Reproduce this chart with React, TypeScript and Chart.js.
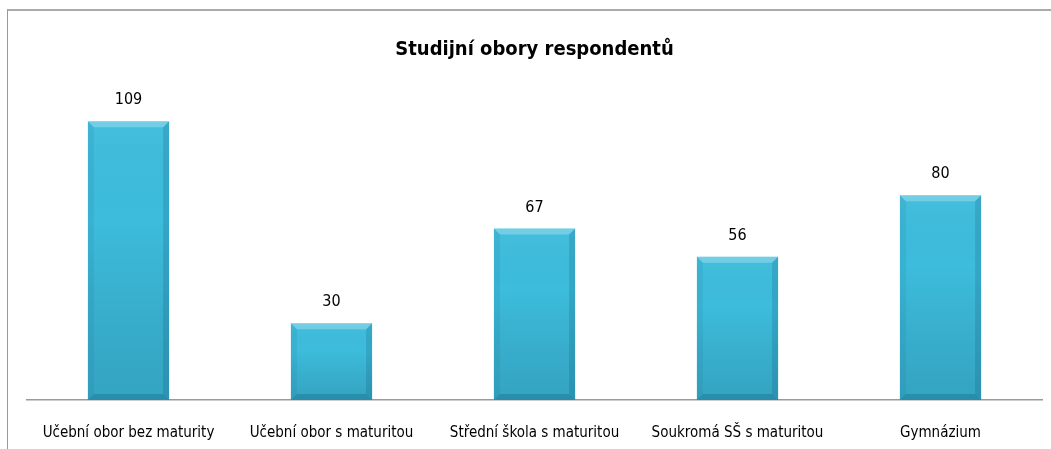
import React, { useEffect, useRef } from "react";
import { Chart, registerables } from "chart.js";

Chart.register(...registerables);

const categories = [
  "Učební obor bez maturity",
  "Učební obor s maturitou",
  "Střední škola s maturitou",
  "Soukromá SŠ s maturitou",
  "Gymnázium",
];
const values = [109, 30, 67, 56, 80];
const chartTitle = "Studijní obory respondentů";

const FONT = "'Liberation Sans Narrow', 'DejaVu Sans Condensed', 'Open Sans', sans-serif";

const bevelPlugin = {
  id: "bevel",
  afterDatasetsDraw(chart: any) {
    const ctx = chart.ctx;
    const meta = chart.getDatasetMeta(0);
    meta.data.forEach((bar: any, i: number) => {
      const w = bar.width;
      const l = bar.x - w / 2;
      const r = bar.x + w / 2;
      const t = bar.y;
      const b = bar.base;
      const bv = 6;
      ctx.save();
      const g = ctx.createLinearGradient(0, t, 0, b);
      g.addColorStop(0, "rgba(255,255,255,0.04)");
      g.addColorStop(0.35, "rgba(0,0,0,0.0)");
      g.addColorStop(1, "rgba(0,40,60,0.16)");
      ctx.fillStyle = g;
      ctx.fillRect(l, t, w, b - t);
      ctx.fillStyle = "rgba(255,255,255,0.25)";
      ctx.beginPath();
      ctx.moveTo(l, t); ctx.lineTo(r, t); ctx.lineTo(r - bv, t + bv); ctx.lineTo(l + bv, t + bv); ctx.closePath();
      ctx.fill();
      ctx.fillStyle = "rgba(0,60,90,0.07)";
      ctx.beginPath();
      ctx.moveTo(l, t); ctx.lineTo(l + bv, t + bv); ctx.lineTo(l + bv, b - bv); ctx.lineTo(l, b); ctx.closePath();
      ctx.fill();
      ctx.fillStyle = "rgba(0,50,80,0.15)";
      ctx.beginPath();
      ctx.moveTo(r, t); ctx.lineTo(r - bv, t + bv); ctx.lineTo(r - bv, b - bv); ctx.lineTo(r, b); ctx.closePath();
      ctx.fill();
      ctx.fillStyle = "rgba(0,50,80,0.2)";
      ctx.beginPath();
      ctx.moveTo(l, b); ctx.lineTo(l + bv, b - bv); ctx.lineTo(r - bv, b - bv); ctx.lineTo(r, b); ctx.closePath();
      ctx.fill();
      ctx.fillStyle = "#000";
      ctx.font = `16px ${FONT}`;
      ctx.textAlign = "center";
      ctx.textBaseline = "middle";
      ctx.fillText(String(values[i]), bar.x, t - 21);
      ctx.restore();
    });
  },
};

export default function App() {
  const ref = useRef<HTMLCanvasElement>(null);
  useEffect(() => {
    if (!ref.current) return;
    const chart = new Chart(ref.current, {
      type: "bar",
      data: {
        labels: categories,
        datasets: [
          {
            data: values,
            backgroundColor: "#3dbcdc",
            borderWidth: 0,
            categoryPercentage: 1,
            barPercentage: 0.4,
          },
        ],
      },
      options: {
        animation: false,
        responsive: false,
        maintainAspectRatio: false,
        layout: { padding: { left: 27, right: 9, top: 0, bottom: 0 } },
        plugins: {
          legend: { display: false },
          tooltip: { enabled: false },
          title: {
            display: true,
            text: chartTitle,
            color: "#000",
            font: { family: FONT, size: 20, weight: "bold", lineHeight: 1.2 },
            padding: { top: 38, bottom: 31 },
          },
        },
        scales: {
          x: {
            grid: { display: false, drawTicks: false },
            border: { display: true, color: "#9a9a9a", width: 1.5 },
            ticks: {
              color: "#000",
              padding: 24,
              maxRotation: 0,
              autoSkip: false,
              font: { family: FONT, size: 15, lineHeight: 1.2 },
            },
            afterFit: (axis: any) => {
              axis.height = 49;
            },
          },
          y: { display: false, min: 0, max: 120 },
        },
      },
      plugins: [bevelPlugin],
    });
    return () => chart.destroy();
  }, []);
  return (
    <div style={{ position: "fixed", left: 0, top: 0, width: 1051, height: 449, overflow: "hidden", background: "#fff" }}>
      <div
        style={{
          position: "absolute",
          left: 7,
          top: 9,
          width: 1200,
          height: 600,
          borderLeft: "1px solid #999",
          borderTop: "2px solid #aaa",
        }}
      />
      <canvas ref={ref} width={1051} height={449} style={{ position: "absolute", left: 0, top: 0, width: 1051, height: 449 }} />
    </div>
  );
}
